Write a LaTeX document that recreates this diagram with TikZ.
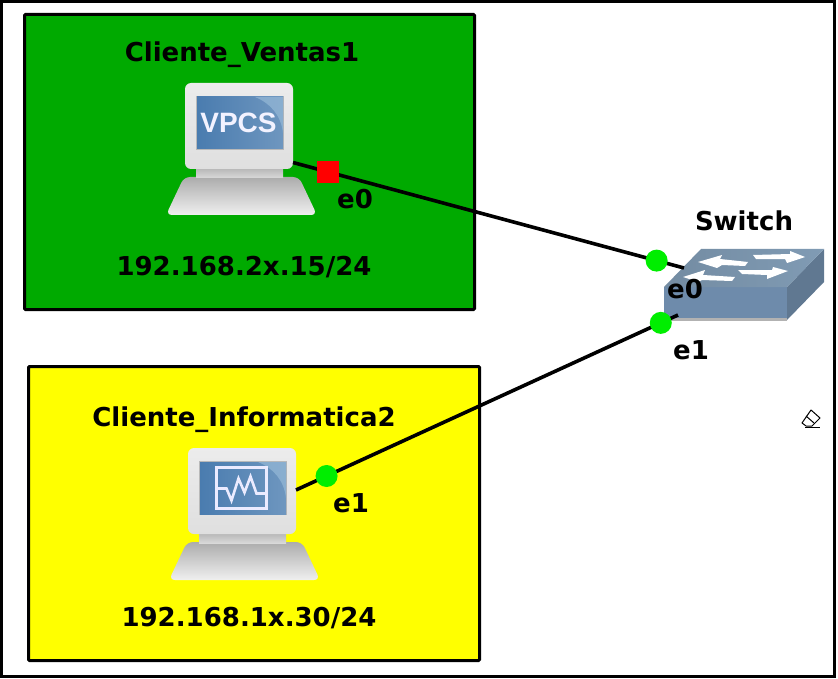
\documentclass[tikz,border=0pt]{standalone}
\usepackage{fontspec}
\setmainfont{DejaVu Sans}
\newfontfamily\vpcsfont{Liberation Sans}
\usetikzlibrary{calc}
\definecolor{groupgreen}{RGB}{0,170,0}
\definecolor{groupyellow}{RGB}{255,255,0}
\definecolor{portgreen}{RGB}{0,238,0}
\definecolor{screenblue}{RGB}{74,124,175}
\definecolor{screenlight}{RGB}{150,185,215}
\definecolor{switchfront}{RGB}{110,139,171}
\definecolor{switchside}{RGB}{96,120,145}
\definecolor{switchtop}{RGB}{128,155,180}
\tikzset{
  groupbox/.style={draw=black,line width=3pt,rounded corners=1pt},
  hostlabel/.style={font=\bfseries\fontsize{26}{28}\selectfont,text=black,inner sep=0pt},
  portlabel/.style={font=\bfseries\fontsize{26}{28}\selectfont,text=black,inner sep=0pt},
  link/.style={draw=black,line width=3.6pt},
  porton/.style={circle,fill=portgreen,minimum size=22pt,inner sep=0pt},
  portoff/.style={rectangle,fill=red,minimum size=22pt,inner sep=0pt},
  pics/computer/.style={code={
    %BASE
    \path[top color=gray!65,bottom color=gray!12,rounded corners=6pt] (-1,94) -- (114,94) -- (132,132) -- (-19,132) -- cycle;
    \path[top color=gray!60,bottom color=gray!30] (11,84) rectangle (98,95);
    %MONITOR
    \path[top color=gray!15,bottom color=gray!25,rounded corners=6pt] (0,0) rectangle (108,86);
    \fill[gray!55] (11,13) rectangle (99,67);
    \path[left color=screenblue,right color=screenblue!80!white] (12,14) rectangle (98,66);
    \path[fill=screenlight,opacity=.7] (70,14) -- (98,14) -- (98,50) .. controls (96,32) and (85,20) .. (70,14) -- cycle;
    \node[inner sep=0pt] (-screen) at (53.5,40) {#1};
  }}
}
\begin{document}
\begin{tikzpicture}[x=1pt,y=-1pt]
  \useasboundingbox (0,0) rectangle (838,679);
  \fill[white] (0,0) rectangle (838,679);
  %CADRE
  \draw[black,line width=3pt] (1.5,1.5) rectangle (834.5,676.5);
  %GROUPES
  \draw[groupbox,fill=groupgreen] (24.5,14.5) rectangle (474.5,309.5);
  \draw[groupbox,fill=groupyellow] (28.5,366.5) rectangle (479.5,660.5);
  %SWITCH
  \fill[gray!60] (664,317) rectangle (787,321);
  \fill[switchfront] (664,287) rectangle (787,318);
  \fill[switchside] (787,287) -- (824,249) -- (824,282) -- (787,320) -- cycle;
  \path[left color=switchtop!90!black,right color=switchtop] (701,249) -- (824,249) -- (787,287) -- (664,287) -- cycle;
  \fill[white] (698,262) -- (722,255) -- (720,259) -- (748,262) -- (745,266) -- (722,265) -- (717,268) -- cycle;
  \fill[white] (753,255) -- (790,254) -- (790,251) -- (805,257) -- (787,263) -- (785,259) -- (756,259) -- cycle;
  \fill[white] (683,277) -- (705,270) -- (703,275) -- (735,277) -- (732,281) -- (702,280) -- (698,282) -- cycle;
  \fill[white] (738,270) -- (772,270) -- (773,267) -- (788,271) -- (767,279) -- (767,275) -- (742,274) -- cycle;
  \node[hostlabel] (switchname) at (744,221) {Switch};
  %ORDINATEURS
  \pic (ventas) at (185,83) {computer={\vpcsfont\fontsize{28}{28}\selectfont\bfseries\color{white!95!blue}VPCS}};
  \pic (info) at (188,448) {computer={\begin{tikzpicture}[x=1pt,y=-1pt]
      \draw[white!92!blue,line width=3pt] (0,0) rectangle (50,41);
      \draw[white!92!blue,line width=2.6pt] (1,21) -- (10,21) -- (15,33) -- (22,11) -- (28,25) -- (34,9) -- (40,26) -- (49,26);
    \end{tikzpicture}}};
  \node[hostlabel] (ventasname) at (242,55) {Cliente\_Ventas1};
  \node[hostlabel] (ventasip) at (244,267) {192.168.2x.15/24};
  \node[hostlabel] (infoname) at (244,420) {Cliente\_Informatica2};
  \node[hostlabel] (infoip) at (249,618) {192.168.1x.30/24};
  %LIENS
  \coordinate (ventasout) at (293,162.5);
  \coordinate (infoout) at (296,490);
  \coordinate (switchin0) at (684,268);
  \coordinate (switchin1) at (678,315);
  \draw[link] (ventasout) -- node[portoff,pos=0.09] (portv) {} node[porton,pos=0.93] (ports0) {} (switchin0);
  \draw[link] (infoout) -- node[porton,pos=0.08] (porti) {} node[porton,pos=0.955] (ports1) {} (switchin1);
  \node[portlabel] (labelv) at (355,199) {e0};
  \node[portlabel] (labels0) at (685,289) {e0};
  \node[portlabel] (labels1) at (691,350) {e1};
  \node[portlabel] (labeli) at (351,503) {e1};
  %GOMME
  \draw[black,line width=1pt,line join=round] (802,423) -- (811,410) -- (820,418) -- (812,426) -- (806,426) -- cycle;
  \draw[black,line width=1pt] (806,416) -- (814,423);
  \draw[black,line width=1pt] (805,427) -- (820,427);
\end{tikzpicture}
\end{document}
